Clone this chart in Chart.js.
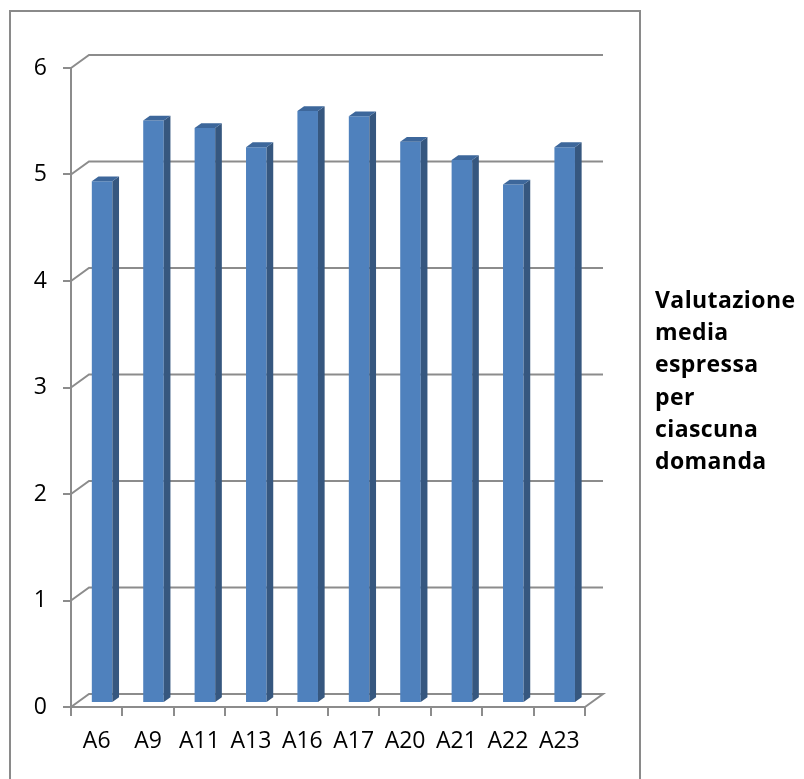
<!DOCTYPE html>
<html>
<head>
<meta charset="utf-8">
<script src="https://cdn.jsdelivr.net/npm/chart.js@4.4.1/dist/chart.umd.min.js"></script>
<style>
    * {
        box-sizing: border-box;
    }
    body {
        margin: 0;
        background: #fff;
        overflow: hidden;
    }
    #wrap {
        position: relative;
        width: 804px;
        height: 779px;
    }
    #legendText {
        position: absolute;
        left: 655px;
        top: 283px;
        font-family: 'Open Sans', sans-serif;
        font-weight: bold;
        font-size: 23px;
        letter-spacing: 0.4px;
        line-height: 32.2px;
        color: #000;
    }
</style>
</head>
<body>
<div id="wrap">
    <canvas id="myChart" width="804" height="779"></canvas>
    <div id="legendText">Valutazione<br>media<br>espressa<br>per<br>ciascuna<br>domanda</div>
</div>
<script>
const categories = ['A6', 'A9', 'A11', 'A13', 'A16', 'A17', 'A20', 'A21', 'A22', 'A23'];
const mediaValues = [4.90, 5.47, 5.40, 5.22, 5.56, 5.51, 5.27, 5.10, 4.87, 5.22];
const yMin = 0;
const yMax = 6;
const yStep = 1;

// depth of the 3d box, and where the bars sit inside it
const DEPTH_X = 18;
const DEPTH_Y = -13;
const BAR_POS = 0.3;
const BAR_DEPTH = 0.37;
const LINE_GRAY = '#8c8c8c';

const threeD = {
    id: 'threeD',
    beforeDraw(chart) {
        const ctx = chart.ctx;
        ctx.save();
        ctx.strokeStyle = '#8a8a8a';
        ctx.lineWidth = 2;
        ctx.strokeRect(10, 11, 630, 800);
        ctx.restore();
    },
    beforeDatasetsDraw(chart) {
        const { ctx, chartArea, scales } = chart;
        const left = chartArea.left;
        const right = chartArea.right;
        ctx.save();
        ctx.strokeStyle = LINE_GRAY;
        ctx.lineWidth = 2;
        scales.y.ticks.forEach(t => {
            const y = scales.y.getPixelForValue(t.value);
            ctx.beginPath();
            ctx.moveTo(left, y);
            ctx.lineTo(left + DEPTH_X, y + DEPTH_Y);
            ctx.lineTo(right + DEPTH_X, y + DEPTH_Y);
            if (t.value === yMin) {
                ctx.lineTo(right, y);
            }
            ctx.stroke();
        });
        ctx.restore();
    },
    beforeDatasetDraw(chart) {
        chart.ctx.save();
        chart.ctx.translate(DEPTH_X * BAR_POS, DEPTH_Y * BAR_POS);
    },
    afterDatasetDraw(chart, args) {
        const ctx = chart.ctx;
        const sx = DEPTH_X * BAR_DEPTH;
        const sy = DEPTH_Y * BAR_DEPTH;
        args.meta.data.forEach(bar => {
            const { x, y, base, width } = bar.getProps(['x', 'y', 'base', 'width'], true);
            const l = x - width / 2;
            const r = x + width / 2;
            // side
            ctx.fillStyle = '#36577f';
            ctx.beginPath();
            ctx.moveTo(r, y);
            ctx.lineTo(r + sx, y + sy);
            ctx.lineTo(r + sx, base + sy);
            ctx.lineTo(r, base);
            ctx.closePath();
            ctx.fill();
            // top
            ctx.fillStyle = '#3d679b';
            ctx.beginPath();
            ctx.moveTo(l, y);
            ctx.lineTo(l + sx, y + sy);
            ctx.lineTo(r + sx, y + sy);
            ctx.lineTo(r, y);
            ctx.closePath();
            ctx.fill();
        });
        ctx.restore();
    }
};

const tickFont = { family: "'Open Sans', sans-serif", size: 23 };

const ctx = document.getElementById('myChart').getContext('2d');
const myChart = new Chart(ctx, {
    type: 'bar',
    data: {
        labels: categories,
        datasets: [{
            label: 'Valutazione media espressa per ciascuna domanda',
            data: mediaValues,
            backgroundColor: '#4f81bd',
            borderWidth: 0,
            barPercentage: 0.4,
            categoryPercentage: 1.0,
            clip: false
        }]
    },
    options: {
        responsive: false,
        animation: false,
        devicePixelRatio: 1,
        layout: {
            padding: { left: 0, top: 68, right: 219, bottom: 0 }
        },
        plugins: {
            legend: { display: false },
            tooltip: { enabled: false }
        },
        scales: {
            x: {
                afterFit(scale) { scale.height = 72; },
                grid: {
                    drawOnChartArea: false,
                    drawTicks: true,
                    tickLength: 9,
                    color: LINE_GRAY,
                    lineWidth: 2
                },
                border: { display: true, color: LINE_GRAY, width: 2 },
                ticks: { color: '#000', font: tickFont, padding: 12, maxRotation: 0 }
            },
            y: {
                min: yMin,
                max: yMax,
                afterFit(scale) { scale.width = 71; },
                grid: {
                    drawOnChartArea: false,
                    drawTicks: true,
                    tickLength: 8,
                    color: LINE_GRAY,
                    lineWidth: 2
                },
                border: { display: true, color: LINE_GRAY, width: 2 },
                ticks: { color: '#000', font: tickFont, padding: 16, stepSize: yStep }
            }
        }
    },
    plugins: [threeD]
});
</script>
</body>
</html>
